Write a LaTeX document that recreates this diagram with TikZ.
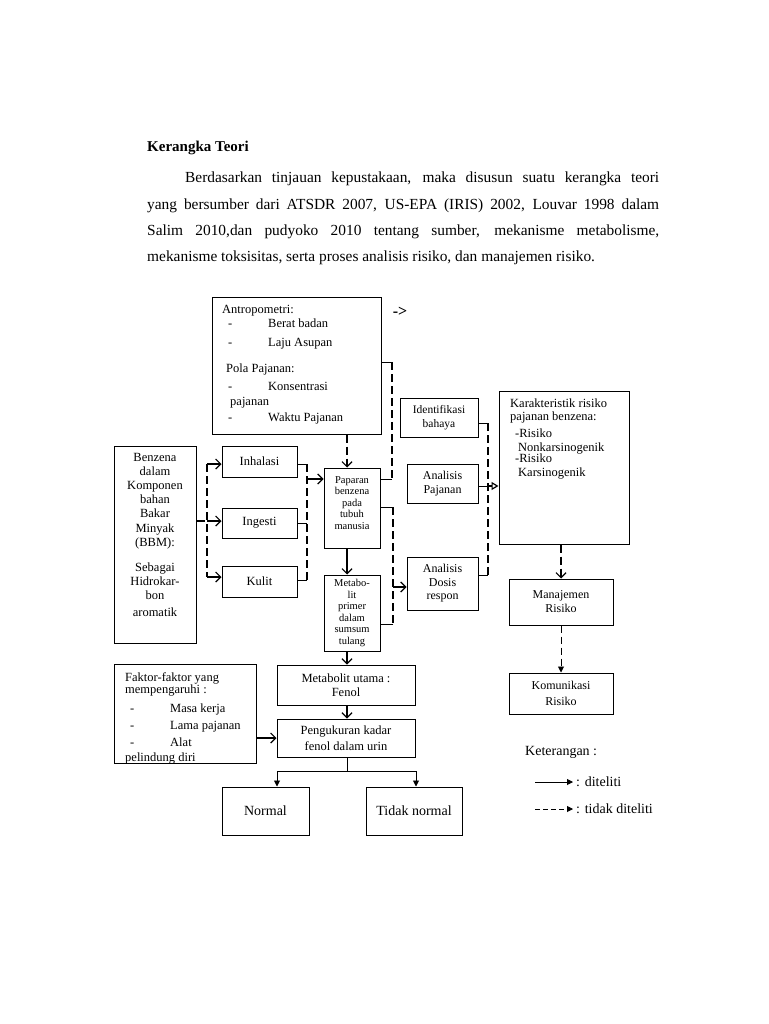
\documentclass[tikz,border=0pt]{standalone}
\usepackage{fontspec}
\setmainfont{Liberation Serif}
\usetikzlibrary{arrows.meta}

\begin{document}
\begin{tikzpicture}[x=1pt,y=-1pt,
  box/.style={draw,line width=1pt,align=center,inner sep=1pt,font=\fontsize{12.5}{14.5}\selectfont},
  isi/.style={inner sep=0pt,anchor=base west,align=flush left,font=\fontsize{12.5}{14.5}\selectfont},
  putus/.style={line width=1.2pt,dash pattern=on 8pt off 4pt},
  panah/.style={-{Straight Barb[length=5pt,width=10pt]},line width=1.2pt},
  panahsegi/.style={-{Triangle[length=6pt,width=6pt]},line width=0.9pt}]
\path[fill=white] (0,0) rectangle (768,1024);

\node[anchor=base west,inner sep=0pt,font=\fontsize{15}{18}\selectfont\bfseries] (judul) at (147,152) {Kerangka Teori};
\node[anchor=base west,inner sep=0pt,text width=512pt,align=justify,font=\fontsize{15.4}{26.3}\selectfont] (para) at (147,183)
  {\hspace*{38pt}Berdasarkan tinjauan kepustakaan, maka disusun suatu kerangka teori\linebreak
   yang bersumber dari ATSDR 2007, US-EPA (IRIS) 2002, Louvar 1998 dalam\linebreak
   Salim 2010,dan pudyoko 2010 tentang sumber, mekanisme metabolisme,\linebreak
   mekanisme toksisitas, serta proses analisis risiko, dan manajemen risiko.};

\node[box,minimum width=169pt,minimum height=137pt] (antro) at (296.5,365.5) {};
\node[isi,text width=150pt] (antro-t) at (222,313) {Antropometri:\\
  \hspace*{6pt}\makebox[40pt][l]{-}Berat badan\\[4.5pt]
  \hspace*{6pt}\makebox[40pt][l]{-}Laju Asupan\\[11.5pt]
  \hspace*{4pt}Pola Pajanan:\\[3.5pt]
  \hspace*{6pt}\makebox[40pt][l]{-}Konsentrasi\\
  \hspace*{8pt}pajanan\\[1.5pt]
  \hspace*{6pt}\makebox[40pt][l]{-}Waktu Pajanan};
\node[inner sep=0pt,font=\fontsize{16}{18}\selectfont\bfseries] (tanda) at (400,312) {->};

\node[box,minimum width=82pt,minimum height=197pt] (benz) at (155,544.5) {};
\node[isi,anchor=base,align=center,text width=78pt,font=\fontsize{12.5}{14.2}\selectfont] (benz-t) at (155,461)
  {Benzena\\dalam\\Komponen\\bahan\\Bakar\\Minyak\\(BBM):\\[10.8pt]Sebagai\\Hidrokar-\\bon\\[2.8pt]aromatik};

\node[box,minimum width=75pt,minimum height=31pt] (inh) at (259.5,461.5) {Inhalasi};
\node[box,minimum width=75pt,minimum height=30pt] (ing) at (259.5,523) {Ingesti};
\node[box,minimum width=75pt,minimum height=31pt] (kul) at (259.5,581.5) {Kulit};

\node[box,minimum width=56pt,minimum height=80pt] (pap) at (352,508) {};
\node[isi,anchor=base,align=center,text width=54pt,font=\fontsize{10.5}{11.4}\selectfont] (pap-t) at (352,483.5)
  {Paparan\\benzena\\pada\\tubuh\\manusia};
\node[box,minimum width=56pt,minimum height=76pt,font=\fontsize{10.5}{11.6}\selectfont] (met) at (352,613)
  {Metabo-\\lit\\primer\\dalam\\sumsum\\tulang};

\node[box,minimum width=138pt,minimum height=40pt] (utama) at (346,685) {Metabolit utama :\\Fenol};
\node[box,minimum width=138pt,minimum height=38pt,font=\fontsize{12.5}{16}\selectfont] (ukur) at (346,738) {Pengukuran kadar\\fenol dalam urin};

\node[box,minimum width=142pt,minimum height=99pt] (faktor) at (185,713.5) {};
\node[isi,text width=130pt,font=\fontsize{12.5}{17}\selectfont] (faktor-t) at (125,681) {Faktor-faktor yang\\[-5pt]
  mempengaruhi :\\[2pt]
  \hspace*{5pt}\makebox[40pt][l]{-}Masa kerja\\
  \hspace*{5pt}\makebox[40pt][l]{-}Lama pajanan\\
  \hspace*{5pt}\makebox[40pt][l]{-}Alat\\[-2pt]
  pelindung diri};

\node[box,minimum width=87pt,minimum height=48pt,font=\fontsize{14}{16}\selectfont] (normal) at (265.5,811) {Normal};
\node[box,minimum width=96pt,minimum height=48pt,font=\fontsize{14}{16}\selectfont] (tidak) at (414,811) {Tidak normal};

\node[box,minimum width=78pt,minimum height=39pt,font=\fontsize{11.5}{14}\selectfont] (ident) at (439,417.5) {Identifikasi\\bahaya};
\node[box,minimum width=71pt,minimum height=39pt,font=\fontsize{12}{13.5}\selectfont] (pajan) at (442.5,483.5) {Analisis\\Pajanan};
\node[box,minimum width=71pt,minimum height=53pt,font=\fontsize{12}{13.5}\selectfont] (dosis) at (442.5,583.5) {Analisis\\Dosis\\respon};

\node[box,minimum width=130pt,minimum height=153pt] (karak) at (564,467.5) {};
\node[isi,text width=115pt,font=\fontsize{12.5}{13.5}\selectfont] (karak-t) at (510,407) {Karakteristik risiko\\
  pajanan benzena:\\[3.5pt]
  \hspace*{5pt}-Risiko\\
  \hspace*{8pt}Nonkarsinogenik\\[-2pt]
  \hspace*{5pt}-Risiko\\
  \hspace*{8pt}Karsinogenik};
\node[box,minimum width=104pt,minimum height=46pt,font=\fontsize{12}{14}\selectfont] (manaj) at (561,602) {Manajemen\\Risiko};
\node[box,minimum width=104pt,minimum height=41pt,font=\fontsize{12}{16}\selectfont] (komun) at (561,693.5) {Komunikasi\\Risiko};

\node[anchor=west,inner sep=0pt,font=\fontsize{14}{16}\selectfont] (ket) at (525,752) {Keterangan :};
\node[anchor=west,inner sep=0pt,font=\fontsize{14}{16}\selectfont] (ket1) at (576,782) {: diteliti};
\node[anchor=west,inner sep=0pt,font=\fontsize{14}{16}\selectfont] (ket2) at (576,809) {: tidak diteliti};

\coordinate (kol) at (347,0);
\coordinate (a1) at (392,362);
\coordinate (a2) at (392,479);
\coordinate (c1) at (393,507);
\coordinate (c2) at (393,624);
\coordinate (c3) at (393,587);
\coordinate (d1) at (488,423);
\coordinate (d2) at (488,575);
\coordinate (d3) at (488,486);
\coordinate (e0) at (207,521);
\coordinate (e1) at (207,464);
\coordinate (e2) at (207,577);
\coordinate (f1) at (307,464);
\coordinate (f2) at (307,580);
\coordinate (f3) at (307,479);
\coordinate (f4) at (307,523);
\coordinate (g0) at (347,771);
\coordinate (gl) at (277,771);
\coordinate (gr) at (416,771);
\coordinate (k1) at (535,782);
\coordinate (k2) at (535,809);

\draw (antro.east |- a1) -- (a1);
\draw[putus] (a1) -- (a2);
\draw (a2) -- (pap.east |- a2);
\draw[putus,panah] (antro.south -| kol) -- (pap.north -| kol);

\draw[putus] (benz.east |- e0) -- (e0);
\draw[putus] (e1) -- (e2);
\draw[panah] (e1) -- (inh.west |- e1);
\draw[panah] (e0) -- (ing.west |- e0);
\draw[panah] (e2) -- (kul.west |- e2);

\draw (inh.east |- f1) -- (f1);
\draw (ing.east |- f4) -- (f4);
\draw (kul.east |- f2) -- (f2);
\draw[putus] (f1) -- (f2);
\draw[panah] (f3) -- (pap.west |- f3);

\draw[panah] (pap.south -| kol) -- (met.north -| kol);
\draw[panah] (met.south -| kol) -- (utama.north -| kol);
\draw[panah] (utama.south -| kol) -- (ukur.north -| kol);

\draw (pap.east |- c1) -- (c1);
\draw[putus] (c1) -- (c2);
\draw (c2) -- (met.east |- c2);
\draw[panah] (c3) -- (dosis.west |- c3);

\draw (ident.east |- d1) -- (d1);
\draw (pajan.east |- d3) -- (d3);
\draw (dosis.east |- d2) -- (d2);
\draw[putus] (d1) -- (d2);
\draw[-{Triangle[open,length=7pt,width=8pt]},line width=1.2pt] (d3) -- (karak.west |- d3);

\draw[panah] (faktor.east |- ukur.west) -- (ukur.west);
\draw (ukur.south -| kol) -- (g0);
\draw (gl) -- (gr);
\draw[panahsegi] (gl) -- (normal.north -| gl);
\draw[panahsegi] (gr) -- (tidak.north -| gr);

\draw[putus,panah] (karak.south -| manaj.north) -- (manaj.north);
\draw[panahsegi,dash pattern=on 7pt off 4pt] (manaj.south) -- (komun.north);

\draw[panahsegi] (k1) -- ([xshift=-3pt]ket1.west);
\draw[panahsegi,dash pattern=on 5pt off 3pt] (k2) -- ([xshift=-3pt]ket2.west);
\end{tikzpicture}
\end{document}
